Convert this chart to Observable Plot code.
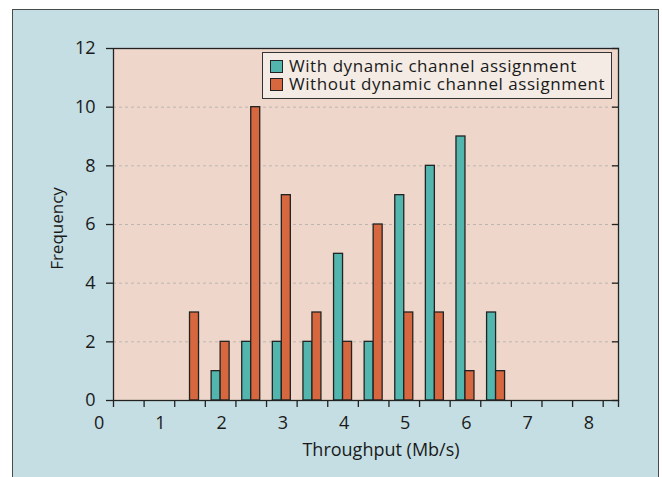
<!DOCTYPE html>
<html>
<head>
<meta charset="utf-8">
<script src="https://cdn.jsdelivr.net/npm/d3@7"></script>
<script src="https://cdn.jsdelivr.net/npm/@observablehq/plot@0.6"></script>
<style>
  html, body { margin: 0; padding: 0; background: #ffffff; }
  #wrap { position: relative; width: 662px; height: 477px; overflow: hidden; background: #ffffff; font-family: "Open Sans", sans-serif; }
  #panel { position: absolute; left: 12px; top: 9px; width: 645px; height: 480px; background: #c4dee3; border: 1px solid #4a4a4a; }
  #chart { position: absolute; left: 0; top: 0; }
  #legend { position: absolute; left: 262px; top: 52px; width: 348px; height: 45px; background: #f3ebe4; border: 1.5px solid #333; font-size: 17px; letter-spacing: 0.55px; color: #1a1a1a; }
  .item { position: absolute; left: 7px; height: 18px; line-height: 18px; white-space: nowrap; }
  .sw { display: inline-block; width: 11px; height: 11px; border: 1.2px solid #222; vertical-align: -1px; margin-right: 6px; }
</style>
</head>
<body>
<div id="wrap">
  <div id="panel"></div>
  <div id="chart"></div>
  <div id="legend"></div>
</div>
<script>
// ---- data ----
const bins = [1.5, 2, 2.5, 3, 3.5, 4, 4.5, 5, 5.5, 6, 6.5];
const withDCA = [0, 1, 2, 2, 2, 5, 2, 7, 8, 9, 3];
const withoutDCA = [3, 2, 10, 7, 3, 2, 6, 3, 3, 1, 1];
const seriesNames = ["With dynamic channel assignment", "Without dynamic channel assignment"];
const seriesColors = ["#52b6af", "#d6673f"];
const xTickMarks = [0.25, 0.75, 1.25, 1.75, 2.25, 2.75, 3.25, 3.75, 4.25, 4.75, 5.25, 5.75, 6.25, 6.75, 7.25, 7.75, 8.25, 8.5];
const xTickLabels = [0, 1, 2, 3, 4, 5, 6, 7, 8];
const yTicks = [0, 2, 4, 6, 8, 10, 12];
const yGrid = [2, 4, 6, 8, 10];
const xTitle = "Throughput (Mb/s)";
const yTitle = "Frequency";

// ---- table ----
const rows = [];
bins.forEach((b, i) => {
  rows.push({bin: b, series: seriesNames[0], value: withDCA[i], side: -1});
  rows.push({bin: b, series: seriesNames[1], value: withoutDCA[i], side: 1});
});
const bars = rows.filter(d => d.value > 0);
const halfW = 0.147;

const chart = Plot.plot({
  width: 662,
  height: 477,
  marginLeft: 113,
  marginRight: 44,
  marginTop: 48,
  marginBottom: 77,
  style: {fontFamily: "Open Sans", fontSize: "18px", color: "#1a1a1a", background: "transparent"},
  x: {domain: [0.25, 8.5], label: null},
  y: {domain: [0, 12], label: null},
  color: {domain: seriesNames, range: seriesColors},
  marks: [
    Plot.frame({fill: "#eed7ca", stroke: null}),
    Plot.gridY(yGrid, {stroke: "#bdb5b0", strokeOpacity: 1, strokeDasharray: "3,3", strokeWidth: 1}),
    Plot.rect(bars, {
      x1: d => d.side < 0 ? d.bin - halfW : d.bin,
      x2: d => d.side < 0 ? d.bin : d.bin + halfW,
      y1: 0,
      y2: "value",
      fill: "series",
      stroke: "#222",
      strokeWidth: 1.3
    }),
    Plot.frame({stroke: "#222", strokeWidth: 1.3}),
    Plot.axisX({ticks: xTickMarks, tickFormat: () => "", tickSize: 7, stroke: "#222", strokeWidth: 1.3, label: null}),
    Plot.text(xTickLabels, {x: d => d, text: d => String(d), frameAnchor: "bottom", dy: 23, dx: 1, lineAnchor: "middle", fontSize: 18, fill: "#1a1a1a"}),
    Plot.axisY({ticks: yTicks, anchor: "left", tickSize: 7, tickPadding: 11, stroke: "#222", strokeWidth: 1.3, fontSize: 18, label: null}),
    Plot.axisY({ticks: yTicks, anchor: "right", tickSize: 7, insetRight: 7, tickFormat: () => "", stroke: "#222", strokeWidth: 1.3, label: null}),
    Plot.text([yTitle], {text: d => d, frameAnchor: "left", textAnchor: "middle", lineAnchor: "middle", dx: -56, dy: 4, rotate: -90, fontSize: 17, fill: "#1a1a1a"}),
    Plot.text([xTitle], {text: d => d, frameAnchor: "bottom", textAnchor: "middle", lineAnchor: "middle", dy: 50, dx: 15, fontSize: 18, fill: "#1a1a1a"})
  ]
});
document.getElementById("chart").appendChild(chart);

// legend
const legend = document.getElementById("legend");
seriesNames.forEach((name, i) => {
  const item = document.createElement("div");
  item.className = "item";
  item.style.top = (4 + i * 18) + "px";
  const sw = document.createElement("span");
  sw.className = "sw";
  sw.style.background = seriesColors[i];
  item.appendChild(sw);
  item.appendChild(document.createTextNode(name));
  legend.appendChild(item);
});
</script>
</body>
</html>
